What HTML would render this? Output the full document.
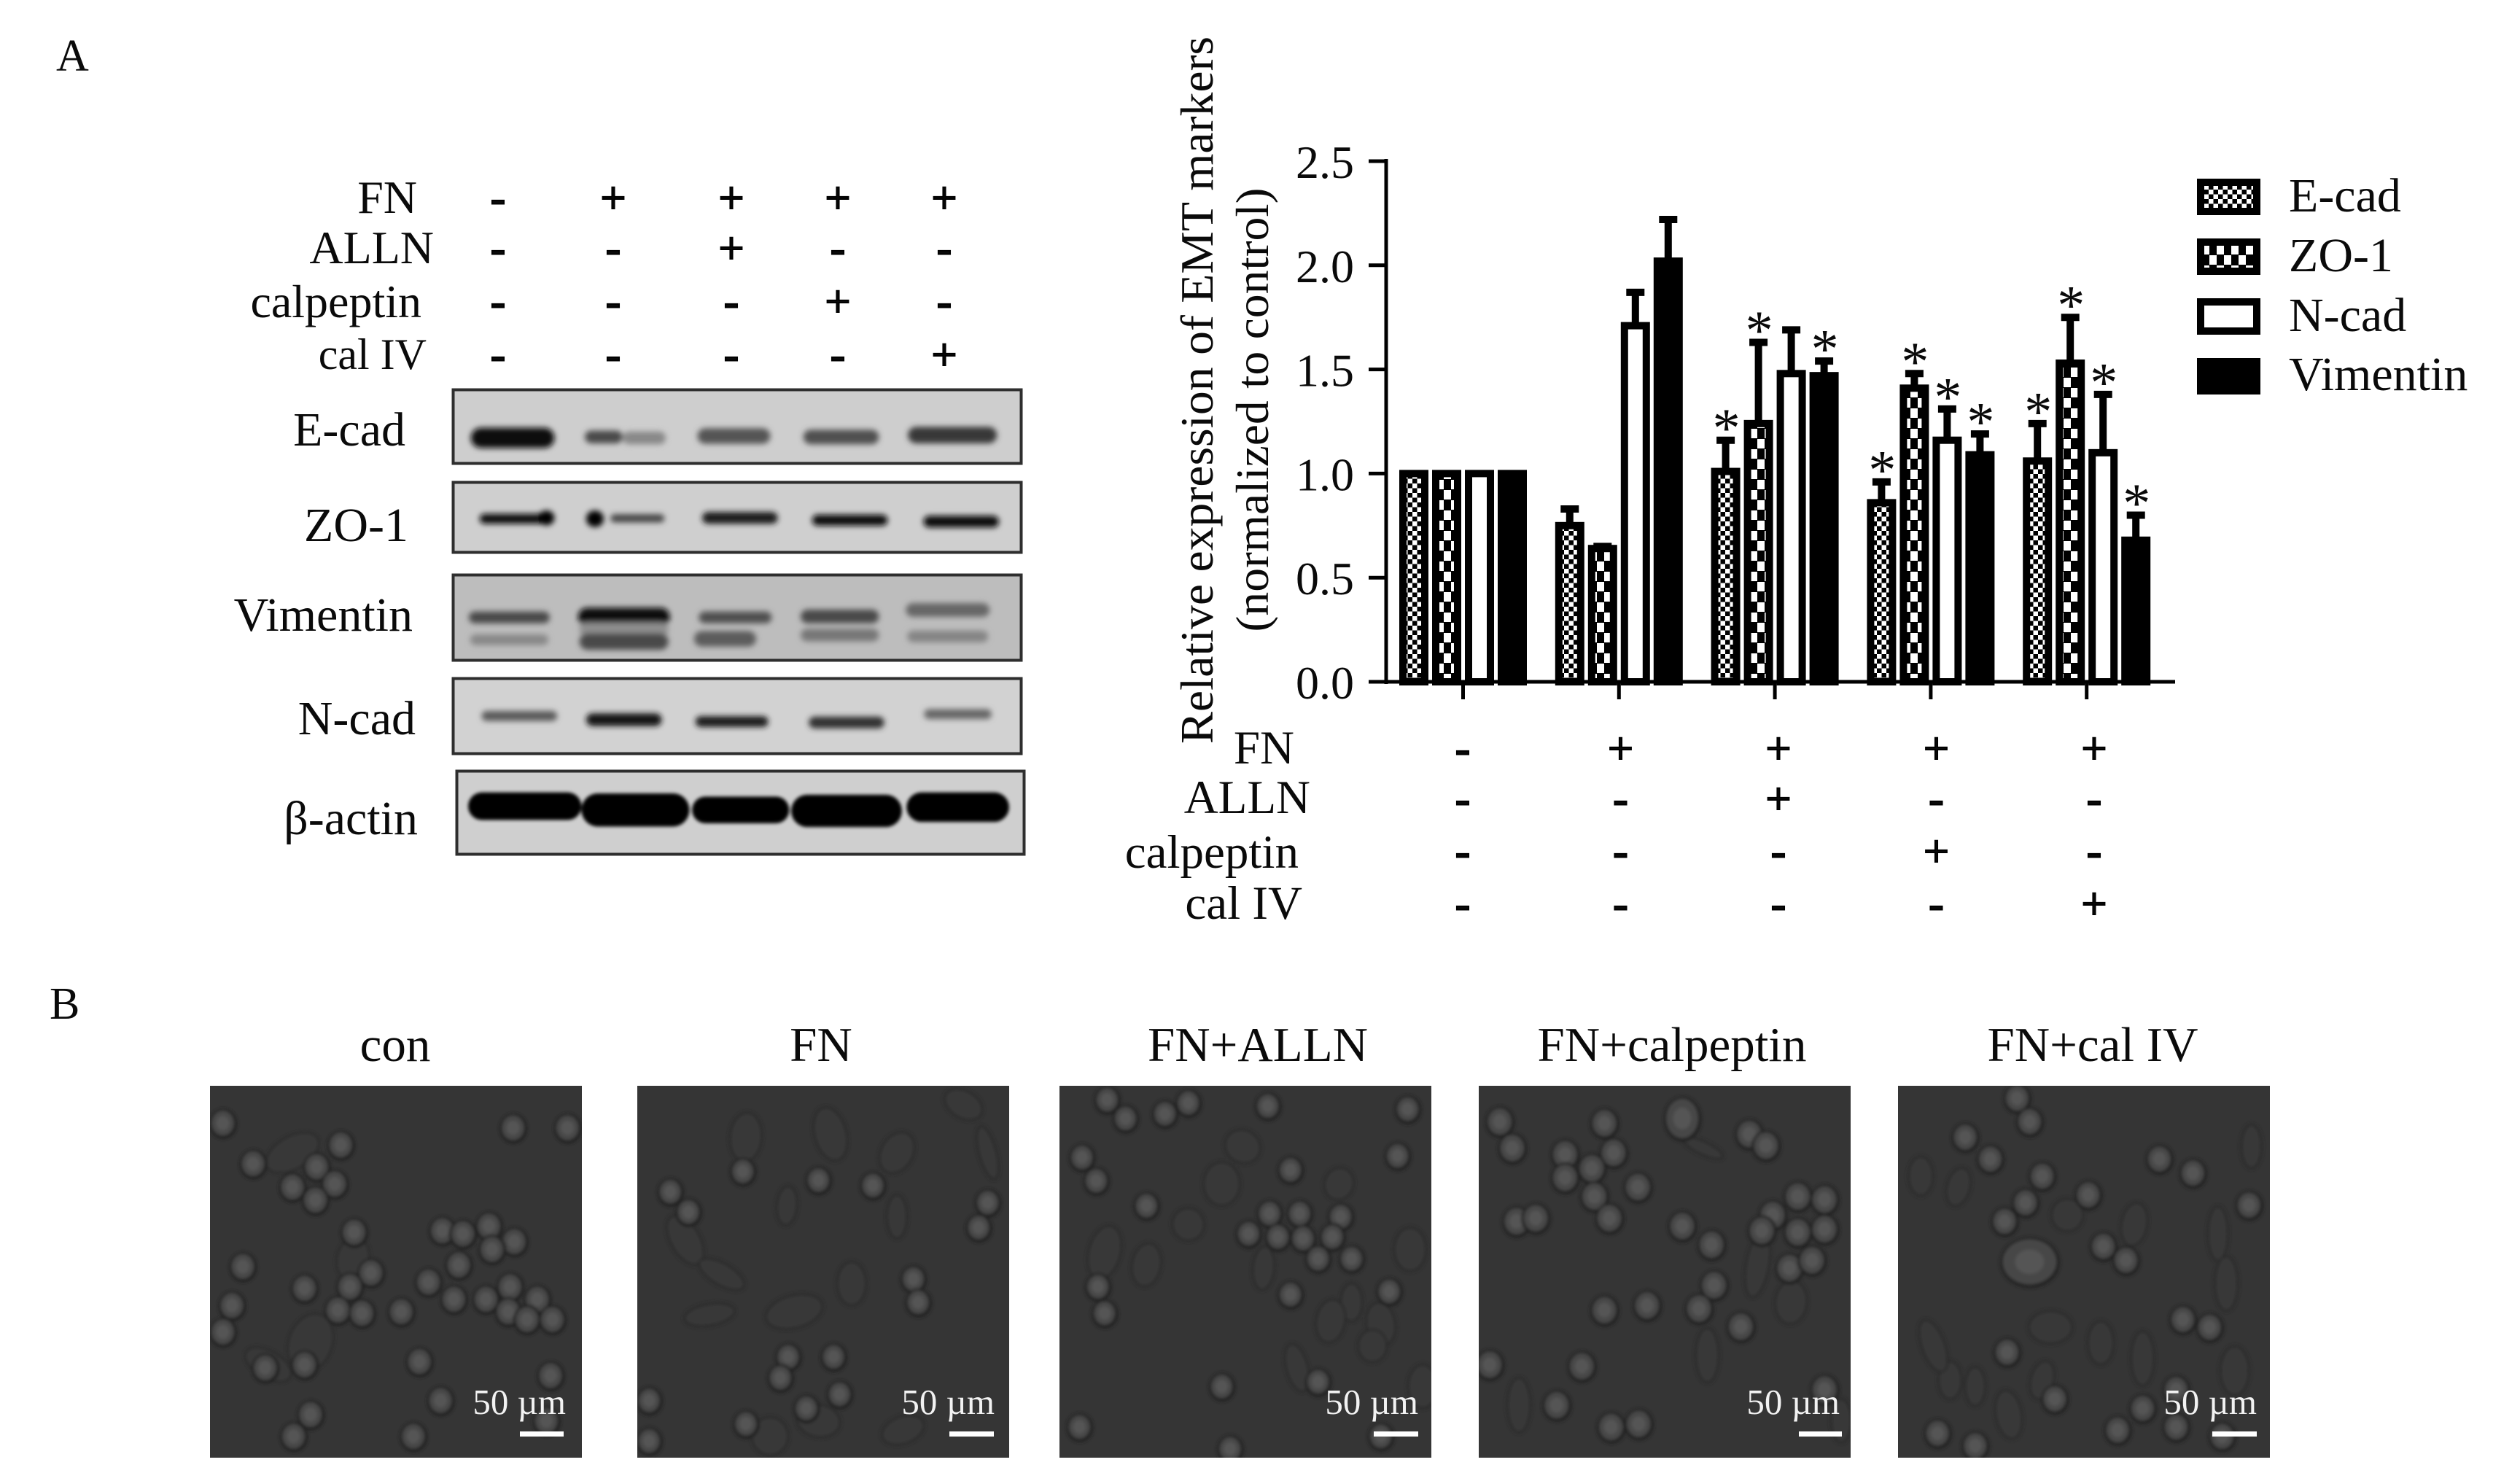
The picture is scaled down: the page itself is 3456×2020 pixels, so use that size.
<!DOCTYPE html>
<html lang="en">
<head>
<meta charset="utf-8">
<title>EMT markers figure</title>
<style>
html,body{margin:0;padding:0;background:#fff;}
svg{display:block;}
text{font-family:"Liberation Serif","DejaVu Serif",serif;fill:#0a0a0a;}
</style>
</head>
<body>
<svg id="fig" xmlns="http://www.w3.org/2000/svg" width="3456" height="2020" viewBox="0 0 3456 2020">
<defs>
<pattern id="pat-ecad" patternUnits="userSpaceOnUse" width="13" height="13">
<rect width="13" height="13" fill="#000"/>
<rect x="0" y="0" width="6.5" height="6.5" fill="#fff"/>
<rect x="6.5" y="6.5" width="6.5" height="6.5" fill="#fff"/>
</pattern>
<pattern id="pat-zo1" patternUnits="userSpaceOnUse" width="20" height="28">
<rect width="20" height="28" fill="#000"/>
<rect x="0" y="0" width="10" height="13" fill="#fff"/>
<rect x="10" y="14" width="10" height="13" fill="#fff"/>
</pattern>
<filter id="blur-band" x="-30%" y="-80%" width="160%" height="260%"><feGaussianBlur stdDeviation="4"/></filter>
<filter id="blur-band-sharp" x="-30%" y="-80%" width="160%" height="260%"><feGaussianBlur stdDeviation="2.5"/></filter>
<filter id="blur-cell" x="-5%" y="-5%" width="110%" height="110%"><feGaussianBlur stdDeviation="2.2"/></filter>
</defs>
<rect width="3456" height="2020" fill="#fff"/>

<text x="77" y="97" font-size="62">A</text>
<text x="68" y="1397" font-size="62">B</text>

<g font-size="64" text-anchor="end">
<text x="572" y="292">FN</text>
<text x="595" y="361">ALLN</text>
<text x="578" y="435">calpeptin</text>
<text x="585" y="506" font-size="60">cal IV</text>
</g>
<g font-size="66" text-anchor="end">
<text x="556" y="611">E-cad</text>
<text x="560" y="742">ZO-1</text>
<text x="566" y="865">Vimentin</text>
<text x="570" y="1007">N-cad</text>
<text x="573" y="1144">β-actin</text>
</g>
<g id="blot-signs" font-size="62" text-anchor="middle" stroke="#000" stroke-width="2"></g>
<g id="blots"></g>

<g id="chart">
<g id="bars"></g>
<g id="errors"></g>
<g id="stars" font-size="76" text-anchor="middle"></g>
<g id="axes"></g>
<text transform="translate(1663,535) rotate(-90)" font-size="64" text-anchor="middle" textLength="970" lengthAdjust="spacingAndGlyphs">Relative expression of EMT markers</text>
<text transform="translate(1739,562) rotate(-90)" font-size="64" text-anchor="middle" textLength="609" lengthAdjust="spacingAndGlyphs">(normalized to control)</text>
<g font-size="65" text-anchor="end">
<text x="1775" y="1047">FN</text>
<text x="1797" y="1115">ALLN</text>
<text x="1781" y="1190">calpeptin</text>
<text x="1786" y="1260">cal IV</text>
</g>
<g id="chart-signs" font-size="62" text-anchor="middle" stroke="#000" stroke-width="2"></g>
<g id="legend"></g>
</g>

<g id="micro"></g>
</svg>

<script>
// ---- chart data ----
var seriesNames = ['E-cad', 'ZO-1', 'N-cad', 'Vimentin'];
var ecadValues = [1.0, 0.75, 1.01, 0.86, 1.06];
var zo1Values = [1.0, 0.64, 1.24, 1.41, 1.53];
var ncadValues = [1.0, 1.71, 1.48, 1.16, 1.10];
var vimentinValues = [1.0, 2.02, 1.47, 1.09, 0.68];
var ecadErrors = [0, 0.08, 0.15, 0.10, 0.18];
var zo1Errors = [0, 0.01, 0.39, 0.07, 0.22];
var ncadErrors = [0, 0.16, 0.21, 0.15, 0.28];
var vimentinErrors = [0, 0.20, 0.07, 0.10, 0.12];
var ecadStars = [0, 0, 1, 1, 1];
var zo1Stars = [0, 0, 1, 1, 1];
var ncadStars = [0, 0, 0, 1, 1];
var vimentinStars = [0, 0, 1, 1, 1];
var yTickValues = [0, 0.5, 1.0, 1.5, 2.0, 2.5];
var yTickLabels = ['0.0', '0.5', '1.0', '1.5', '2.0', '2.5'];
var fnRow = ['-', '+', '+', '+', '+'];
var allnRow = ['-', '-', '+', '-', '-'];
var calpeptinRow = ['-', '-', '-', '+', '-'];
var calIvRow = ['-', '-', '-', '-', '+'];

var NS = 'http://www.w3.org/2000/svg';
function mk(parent, tag, attrs, txt) {
  var el = document.createElementNS(NS, tag);
  for (var k in attrs) el.setAttribute(k, attrs[k]);
  if (txt !== undefined) el.textContent = txt;
  parent.appendChild(el);
  return el;
}
function yAxis(v) { return 935 - v * 285.6; }
function xBand(g) { return 2006.5 + g * 213.8; }
function xBar(g, s) { return xBand(g) + (s - 1.5) * 45; }

var fills = ['url(#pat-ecad)', 'url(#pat-zo1)', '#fff', '#000'];
var valueSets = [ecadValues, zo1Values, ncadValues, vimentinValues];
var errorSets = [ecadErrors, zo1Errors, ncadErrors, vimentinErrors];
var starSets = [ecadStars, zo1Stars, ncadStars, vimentinStars];

var barsG = document.getElementById('bars');
var errG = document.getElementById('errors');
var starG = document.getElementById('stars');
valueSets.forEach(function (vals, s) {
  vals.forEach(function (v, g) {
    var cx = xBar(g, s);
    var bar = mk(barsG, 'rect', {x: cx - 15, y: yAxis(v), width: 30, height: 935 - yAxis(v), fill: fills[s], stroke: '#000', 'stroke-width': 10});
    
    
    var e = errorSets[s][g];
    if (e > 0) {
      var top = yAxis(v + e);
      var stem = mk(errG, 'line', {x1: cx, x2: cx, y1: yAxis(v), y2: top, stroke: '#000', 'stroke-width': 10});
      
      
      var cap = mk(errG, 'line', {x1: cx - 12.5, x2: cx + 12.5, y1: top, y2: top, stroke: '#000', 'stroke-width': 10});
      
      
      if (starSets[s][g]) {
        var star = mk(starG, 'text', {x: cx + 1, y: top + 9}, '*');
        
        
      }
    }
  });
});

var axG = document.getElementById('axes');
var yLine = mk(axG, 'line', {x1: 1901, x2: 1901, y1: 218, y2: 938, stroke: '#000', 'stroke-width': 5});


var xLine = mk(axG, 'line', {x1: 1877, x2: 2983, y1: 935, y2: 935, stroke: '#000', 'stroke-width': 5});


yTickValues.forEach(function (v, i) {
  var tick = mk(axG, 'line', {x1: 1877, x2: 1901, y1: yAxis(v), y2: yAxis(v), stroke: '#000', 'stroke-width': 5});
  
  
  var lab = mk(axG, 'text', {x: 1857, y: yAxis(v) + 23, 'font-size': 64, 'text-anchor': 'end'}, yTickLabels[i]);
  
  
});
fnRow.forEach(function (_, g) {
  var t = mk(axG, 'line', {x1: xBand(g), x2: xBand(g), y1: 935, y2: 959, stroke: '#000', 'stroke-width': 5});
  
  
});

// treatment signs under the chart
var chartSignsG = document.getElementById('chart-signs');
var chartRows = [fnRow, allnRow, calpeptinRow, calIvRow];
var chartRowBase = [1047, 1116, 1188, 1260];
chartRows.forEach(function (row, r) {
  row.forEach(function (sym, g) {
    var t = mk(chartSignsG, 'text', {x: 2006 + g * 216.5, y: chartRowBase[r]}, sym);
    
    
  });
});

// legend
var legG = document.getElementById('legend');
[[250, 290], [332, 372], [414, 454], [496, 535]].forEach(function (pos, s) {
  var sw = mk(legG, 'rect', {x: 3018, y: pos[0], width: 77, height: 40, fill: fills[s], stroke: '#000', 'stroke-width': 10});
  
  
  var lt = mk(legG, 'text', {x: 3139, y: pos[1], 'font-size': 66}, seriesNames[s]);
  
  
});

// treatment signs above the blots
var blotSignsG = document.getElementById('blot-signs');
var blotLanes = [683, 841, 1003, 1149, 1295];
var blotRowBase = [292, 361, 434, 507];
chartRows.forEach(function (row, r) {
  row.forEach(function (sym, g) {
    var t = mk(blotSignsG, 'text', {x: blotLanes[g], y: blotRowBase[r]}, sym);
    
    
  });
});

// western blots (positions measured on a reference crop: real = crop / scale)
var BSX = 1.081, BSY = 1.568;
var blotDefs = [
  {name: 'ecad', x: 620, y: 533, w: 782, h: 104, bg: '#cecece', blur: 'blur-band', bands: [
    [760, 628, 62, 17, '#0c0c0c'], [895, 626, 28, 9, '#4a4a4a'], [955, 628, 32, 9, '#888'],
    [1088, 624, 54, 12, '#555'], [1247, 626, 56, 11, '#505050'], [1412, 622, 66, 13, '#383838']]},
  {name: 'zo1', x: 620, y: 660, w: 782, h: 99, bg: '#cfcfcf', blur: 'blur-band', bands: [
    [765, 802, 54, 6, '#111'], [810, 800, 12, 11, '#000'], [882, 802, 13, 13, '#000'],
    [945, 801, 40, 4, '#444'], [1097, 800, 56, 8, '#1a1a1a'], [1260, 805, 56, 7, '#111'],
    [1425, 808, 56, 8, '#0c0c0c']]},
  {name: 'vimentin', x: 620, y: 787, w: 782, h: 120, bg: '#bdbdbd', blur: 'blur-band', bands: [
    [755, 1014, 60, 8, '#4a4a4a'], [925, 1013, 68, 15, '#0a0a0a'], [1090, 1014, 54, 8, '#505050'],
    [1245, 1012, 58, 10, '#484848'], [1405, 998, 62, 10, '#666'],
    [925, 1040, 66, 10, '#8f8f8f'],
    [755, 1062, 58, 7, '#888'], [925, 1066, 66, 13, '#484848'], [1075, 1060, 46, 12, '#5c5c5c'],
    [1245, 1052, 58, 9, '#777'], [1405, 1055, 60, 8, '#858585']]},
  {name: 'ncad', x: 620, y: 929, w: 782, h: 106, bg: '#d2d2d2', blur: 'blur-band', bands: [
    [770, 1226, 56, 6, '#5a5a5a'], [925, 1234, 56, 9, '#141414'], [1085, 1238, 54, 7, '#1e1e1e'],
    [1255, 1240, 56, 8, '#333'], [1420, 1222, 50, 6, '#666']]},
  {name: 'actin', x: 625, y: 1056, w: 781, h: 117, bg: '#cfcfcf', blur: 'blur-band-sharp', bands: [
    [778, 1420, 84, 25, '#000'], [942, 1428, 80, 31, '#000'], [1098, 1428, 72, 24, '#000'],
    [1255, 1430, 82, 30, '#000'], [1420, 1422, 76, 27, '#000']]}
];
var blotsG = document.getElementById('blots');
blotDefs.forEach(function (b) {
  var g = mk(blotsG, 'g', {});
  
  
  var cid = 'clip-blot-' + b.name;
  var cp = mk(g, 'clipPath', {id: cid});
  mk(cp, 'rect', {x: b.x, y: b.y, width: b.w, height: b.h});
  mk(g, 'rect', {x: b.x, y: b.y, width: b.w, height: b.h, fill: b.bg});
  var inner = mk(g, 'g', {'clip-path': 'url(#' + cid + ')'});
  var blurred = mk(inner, 'g', {filter: 'url(#' + b.blur + ')'});
  b.bands.forEach(function (d) {
    var cx = d[0] / BSX, cy = 200 + d[1] / BSY, rx = d[2] / BSX, ry = d[3] / BSY + 3;
    mk(blurred, 'rect', {x: cx - rx, y: cy - ry, width: 2 * rx, height: 2 * ry, rx: ry, ry: ry, fill: d[4]});
  });
  mk(g, 'rect', {x: b.x + 1.5, y: b.y + 1.5, width: b.w - 3, height: b.h - 3, fill: 'none', stroke: '#2e2e2e', 'stroke-width': 4});
});

// microscopy panels (cell centres measured on reference crops)
var SY = 2.34;
var microDefs = [
  {name: 'con', title: 'con', x: 288, w: 510, tx: 542, ox: 260, sx: 1.206, r: 20, barX: 713, barW: 60, labR: 776,
   cells: [[55,445],[250,515],[210,585],[240,640],[170,650],[208,692],[105,575],[535,460],[625,460],[272,795],[418,790],[452,800],[495,775],[537,825],[500,850],[445,900],[300,925],[265,970],[190,975],[395,955],[88,905],[70,1030],[55,1115],[530,970],[437,1010],[490,1010],[575,1010],[527,1050],[558,1075],[600,1075],[350,1050],[245,1045],[285,1055],[380,1210],[125,1230],[190,1220],[597,1255],[415,1335],[200,1380],[172,1450],[370,1450],[590,1400]],
   faint: [[170,540,40,30,-30],[200,1150,30,55,20],[130,1220,35,25,30],[270,880,22,40,15]]},
  {name: 'fn', title: 'FN', x: 874, w: 510, tx: 1126, ox: 260, sx: 1.206, r: 19, barX: 1302, barW: 61, labR: 1364,
   cells: [[795,665],[825,730],[915,600],[1040,628],[1130,645],[1320,700],[1305,780],[1197,945],[1205,1020],[990,1195],[1065,1195],[977,1262],[1075,1315],[760,1335],[760,1465],[920,1410],[1020,1360]],
   faint: [[988,710,14,36,5],[1170,745,14,40,0],[1095,960,20,40,0],[1170,540,22,40,30],[920,490,22,45,5],[1280,385,28,25,30],[1060,480,22,50,-15],[820,820,20,50,-30],[880,930,35,20,30],[1000,1050,40,30,-15],[860,1060,35,20,-10],[1320,540,12,50,-15],[1040,1400,30,30,10],[960,1450,25,35,0],[1180,1430,30,25,-20]]},
  {name: 'fn-alln', title: 'FN+ALLN', x: 1453, w: 510, tx: 1725, ox: 1400, sx: 0.871, r: 19, barX: 1884, barW: 61, labR: 1945,
   cells: [[103,370],[172,415],[200,380],[125,430],[295,390],[462,400],[73,555],[90,630],[150,710],[322,595],[450,550],[297,735],[333,735],[382,745],[272,800],[307,810],[337,815],[372,810],[355,880],[395,880],[322,995],[92,970],[100,1055],[440,985],[430,1450],[70,1420],[250,1490],[355,1275],[240,1290]],
   faint: [[265,520,25,30,30],[200,770,22,30,-20],[100,860,22,50,15],[150,900,20,40,10],[290,910,15,40,5],[465,850,22,40,0],[395,1020,15,35,0],[370,1080,20,40,10],[430,1090,20,40,-10],[330,1230,15,45,-15],[420,1160,20,30,0],[380,640,20,30,20],[240,640,25,40,0],[480,1290,20,40,0]]},
  {name: 'fn-calpeptin', title: 'FN+calpeptin', x: 2028, w: 510, tx: 2293, ox: 1400, sx: 0.871, r: 21, barX: 2467, barW: 59, labR: 2523,
   cells: [[572,440],[587,525],[697,445],[790,430,25,30],[870,480],[890,517],[650,545],[708,540],[682,590],[650,620],[737,650],[685,680],[592,760],[615,750],[703,750],[790,775],[825,835],[928,680],[960,690],[898,740],[928,795],[960,785],[885,790],[918,910],[945,885],[828,965],[748,1030],[697,1045],[810,1040],[860,1098],[670,1225],[640,1350],[705,1420],[738,1410],[560,1220],[960,1300]],
   faint: [[815,525,30,12,25],[920,1020,22,40,5],[820,1190,16,50,0],[595,1350,16,50,0],[880,900,16,60,10],[980,1400,14,40,0]]},
  {name: 'fn-cal-iv', title: 'FN+cal IV', x: 2603, w: 510, tx: 2870, ox: 1400, sx: 0.871, r: 20, barX: 3034, barW: 61, labR: 3095,
   cells: [[1190,365],[1205,440],[1128,490],[1158,560],[1220,615],[1360,560],[1400,605],[1275,675],[1200,700],[1175,760],[1467,708],[1205,890,40,34],[1293,840],[1320,885],[1388,1075],[1420,1100],[1178,1180],[1340,1360],[1310,1430],[1235,1330],[1095,1440],[1380,1300],[1380,1420],[1435,1450],[1140,1480]],
   faint: [[1075,615,17,36,0],[1120,650,16,36,15],[1430,800,14,50,0],[1330,770,18,40,10],[1250,740,22,30,0],[1110,1270,16,35,0],[1140,1290,14,36,0],[1220,1270,16,36,15],[1290,1150,18,40,0],[1440,960,16,50,0],[1090,1160,16,50,-20],[1230,1100,30,30,0],[1340,1200,16,50,0],[1450,1240,20,45,0],[1470,520,14,40,0],[1180,1380,18,45,-10]]}
];
var microG = document.getElementById('micro');
microDefs.forEach(function (p) {
  var y0 = 1489, h = 510;
  var g = mk(microG, 'g', {});
  
  
  var ttl = mk(g, 'text', {x: p.tx, y: 1455, 'font-size': 67, 'text-anchor': 'middle'}, p.title);
  
  
  var cid = 'clip-' + p.name;
  var cp = mk(g, 'clipPath', {id: cid});
  mk(cp, 'rect', {x: p.x, y: y0, width: p.w, height: h});
  var img = mk(g, 'rect', {x: p.x, y: y0, width: p.w, height: h, fill: '#353535'});
  
  
  var clipG = mk(g, 'g', {'clip-path': 'url(#' + cid + ')'});
  var cellG = mk(clipG, 'g', {filter: 'url(#blur-cell)'});
  p.faint.forEach(function (f) {
    var fx = p.ox + f[0] / p.sx, fy = 1350 + f[1] / SY;
    mk(cellG, 'ellipse', {cx: fx, cy: fy, rx: f[2], ry: f[3] * 0.75, transform: 'rotate(' + f[4] + ' ' + fx + ' ' + fy + ')', fill: '#393939', stroke: '#2a2a2a', 'stroke-width': 3});
  });
  p.cells.forEach(function (c) {
    var cx = p.ox + c[0] / p.sx, cy = 1350 + c[1] / SY;
    var rx = c[2] || p.r * 0.92, ry = c[3] || p.r;
    mk(cellG, 'ellipse', {cx: cx + 0.5, cy: cy + 1, rx: rx + 1, ry: ry + 1, fill: '#232323'});
    mk(cellG, 'ellipse', {cx: cx, cy: cy, rx: rx - 3, ry: ry - 3, fill: '#464646'});
    mk(cellG, 'ellipse', {cx: cx, cy: cy, rx: rx * 0.5, ry: ry * 0.5, fill: '#555'});
  });
  var lab = mk(g, 'text', {x: p.labR, y: 1939, 'font-size': 49, 'text-anchor': 'end', style: 'fill:#f2f2f2'}, '50 µm');
  
  
  var bar = mk(g, 'rect', {x: p.barX, y: 1963, width: p.barW, height: 7, fill: '#fff'});
  
  
});
</script>
</body>
</html>
